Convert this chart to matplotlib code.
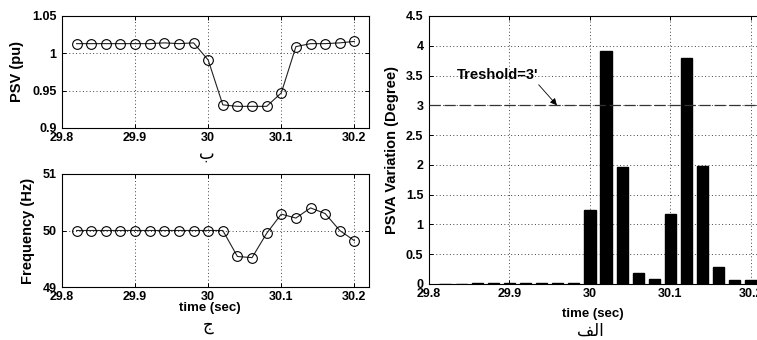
import matplotlib.pyplot as plt

# sample times (sec)
t = [29.82, 29.84, 29.86, 29.88, 29.90, 29.92, 29.94, 29.96, 29.98, 30.00,
     30.02, 30.04, 30.06, 30.08, 30.10, 30.12, 30.14, 30.16, 30.18, 30.20]

psv = [1.013, 1.013, 1.013, 1.013, 1.013, 1.013, 1.014, 1.013, 1.014, 0.991,
       0.931, 0.929, 0.929, 0.929, 0.947, 1.009, 1.013, 1.013, 1.014, 1.016]

freq = [50.0, 50.0, 50.0, 50.0, 50.0, 50.0, 50.0, 50.0, 50.0, 50.0,
        50.0, 49.54, 49.52, 49.95, 50.29, 50.22, 50.40, 50.30, 50.00, 49.82]

psva = [0.0, 0.0, 0.02, 0.02, 0.02, 0.02, 0.02, 0.02, 0.02, 1.245,
        3.915, 1.97, 0.178, 0.09, 1.18, 3.795, 1.98, 0.29, 0.075, 0.06]

threshold = 3.0
xticks = [29.8, 29.9, 30.0, 30.1, 30.2]
xticklabels = ['29.8', '29.9', '30', '30.1', '30.2']

# Arabic captions (presentation forms so they show joined, right to left)
cap_top = '\ufe8f'               # ب
cap_bottom = '\ufe9d'            # ج
cap_right = '\ufed2\ufedf\ufe8d'  # الف

plt.rcParams['font.family'] = ['Liberation Sans', 'DejaVu Sans']
plt.rcParams['font.weight'] = 'bold'

fig = plt.figure(figsize=(7.57, 3.4), dpi=100)
W, H = 757.0, 340.0


def box(l, t_, r, b):
    return [l / W, 1 - b / H, (r - l) / W, (b - t_) / H]


def style(ax):
    ax.grid(True, linestyle=(0, (1, 2.5)), color='#444444', linewidth=0.7)
    ax.tick_params(direction='in', length=3, width=0.7, top=True, right=True,
                   labelsize=9, pad=4)
    ax.tick_params(axis='x', pad=3)
    for s in ax.spines.values():
        s.set_linewidth(0.8)
    ax.set_xticks(xticks)
    ax.set_xticklabels(xticklabels, fontweight='bold')


# PSV
ax1 = fig.add_axes(box(62, 16, 369, 128))
ax1.plot(t, psv, '-o', color='#222222', lw=0.8, ms=7, mfc='none', mec='black', mew=0.8)
ax1.set_xlim(29.8, 30.22)
ax1.set_ylim(0.9, 1.05)
ax1.set_yticks([0.9, 0.95, 1.0, 1.05])
ax1.set_yticklabels(['0.9', '0.95', '1', '1.05'], fontweight='bold')
style(ax1)
ax1.set_ylabel('PSV (pu)', fontsize=10.5, fontweight='bold')
ax1.yaxis.set_label_coords(-0.125, 0.5)
ax1.text(0.472, -0.23, cap_top, transform=ax1.transAxes, ha='center', va='center',
         fontsize=12, family='DejaVu Sans', fontweight='normal')

# Frequency
ax2 = fig.add_axes(box(62, 174, 369, 287))
ax2.plot(t, freq, '-o', color='#222222', lw=0.8, ms=7, mfc='none', mec='black', mew=0.8)
ax2.set_xlim(29.8, 30.22)
ax2.set_ylim(49, 51)
ax2.set_yticks([49, 50, 51])
ax2.set_yticklabels(['49', '50', '51'], fontweight='bold')
style(ax2)
ax2.set_ylabel('Frequency (Hz)', fontsize=10.5, fontweight='bold')
ax2.yaxis.set_label_coords(-0.088, 0.5)
ax2.set_xlabel('time (sec)', fontsize=9.5, fontweight='bold')
ax2.xaxis.set_label_coords(0.482, -0.13)
ax2.text(0.476, -0.335, cap_bottom, transform=ax2.transAxes, ha='center', va='center',
         fontsize=12, family='DejaVu Sans', fontweight='normal')

# PSVA variation bars
ax3 = fig.add_axes(box(429, 16, 767, 284))
ax3.bar(t, psva, width=0.014, color='black', edgecolor='black', zorder=3)
ax3.axhline(threshold, color='#333333', lw=0.9, linestyle=(0, (9, 3)), zorder=4)
ax3.set_xlim(29.8, 30.22)
ax3.set_ylim(0, 4.5)
ax3.set_yticks([0, 0.5, 1, 1.5, 2, 2.5, 3, 3.5, 4, 4.5])
ax3.set_yticklabels(['0', '0.5', '1', '1.5', '2', '2.5', '3', '3.5', '4', '4.5'],
                    fontweight='bold')
style(ax3)
ax3.set_ylabel('PSVA Variation (Degree)', fontsize=10.5, fontweight='bold')
ax3.yaxis.set_label_coords(-0.09, 0.5)
ax3.set_xlabel('time (sec)', fontsize=9.5, fontweight='bold')
ax3.xaxis.set_label_coords(0.485, -0.09)
ax3.annotate("Treshold=3'", xy=(29.959, threshold), xytext=(29.835, 3.51),
             fontsize=10.5, fontweight='bold', va='center', ha='left',
             arrowprops=dict(arrowstyle='-|>', color='black', lw=0.6,
                             shrinkA=0, shrinkB=0, mutation_scale=10,
                             relpos=(0.97, 0.0)))
ax3.text(0.476, -0.175, cap_right, transform=ax3.transAxes, ha='center', va='center',
         fontsize=12, family='DejaVu Sans', fontweight='normal')

fig.savefig('out.png', dpi=100)
